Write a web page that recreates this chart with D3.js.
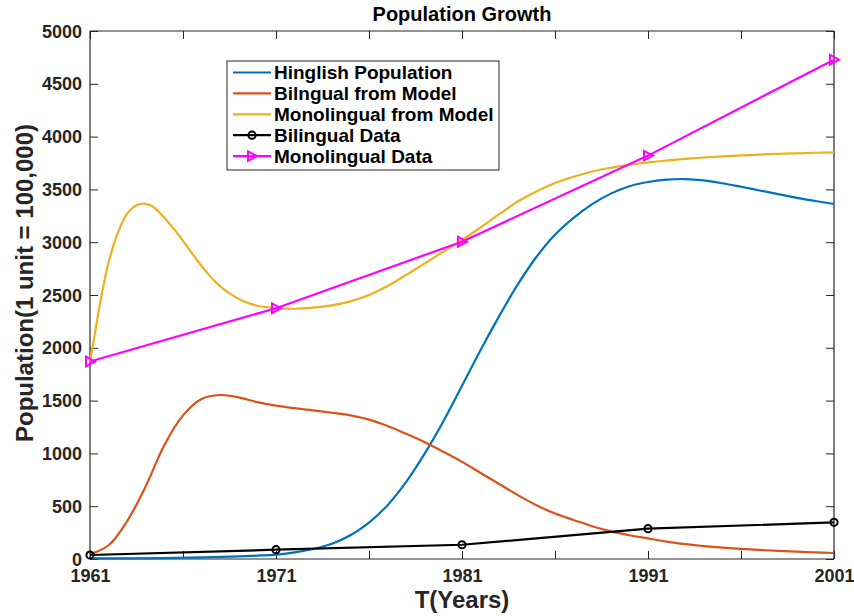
<!DOCTYPE html>
<html>
<head>
<meta charset="utf-8">
<script src="https://cdn.jsdelivr.net/npm/d3@7/dist/d3.min.js"></script>
<style>
  html, body { margin: 0; padding: 0; background: #fff; }
  svg { display: block; font-family: "Liberation Sans", Arial, Helvetica, sans-serif; }
</style>
</head>
<body>
<svg id="chart" width="854" height="616"></svg>
<script>
// Census years and observed values (1 unit = 100,000 people)
const censusYears = [1961, 1971, 1981, 1991, 2001];
const bilingualData = [38, 88, 135, 287, 347];
const monolingualData = [1870, 2375, 3005, 3820, 4728];

// Model output, sampled as [year, value]
const hinglishModel = [
  [1961, 5], [1963, 6], [1965, 9], [1967, 15], [1969, 25], [1970, 32], [1971, 42],
  [1972, 62], [1973, 95], [1974, 145], [1975, 225], [1976, 345], [1977, 510],
  [1978, 730], [1979, 1000], [1980, 1305], [1981, 1640], [1982, 1980], [1983, 2300],
  [1984, 2600], [1985, 2860], [1986, 3070], [1987, 3230], [1988, 3360], [1989, 3460],
  [1990, 3530], [1991, 3570], [1992, 3592], [1993, 3598], [1994, 3585], [1995, 3558],
  [1996, 3525], [1997, 3490], [1998, 3455], [1999, 3420], [2000, 3390], [2001, 3362]
];
const bilingualModel = [
  [1961, 45], [1962, 130], [1963, 360], [1964, 690], [1965, 1080], [1966, 1360],
  [1967, 1515], [1968, 1553], [1969, 1530], [1970, 1485], [1971, 1452], [1972, 1428],
  [1973, 1408], [1974, 1385], [1975, 1360], [1976, 1320], [1977, 1260], [1978, 1185],
  [1979, 1105], [1980, 1015], [1981, 920], [1982, 815], [1983, 710], [1984, 605],
  [1985, 510], [1986, 430], [1987, 370], [1988, 310], [1989, 262], [1990, 225],
  [1991, 195], [1992, 165], [1993, 140], [1994, 122], [1995, 107], [1996, 95],
  [1997, 86], [1998, 77], [1999, 69], [2000, 62], [2001, 57]
];
const monolingualModel = [
  [1961, 1865], [1961.25, 2120], [1961.5, 2380], [1961.75, 2610], [1962, 2810],
  [1962.5, 3090], [1963, 3270], [1963.5, 3350], [1963.9, 3365], [1964.3, 3345],
  [1964.8, 3270], [1965.3, 3170], [1965.8, 3060], [1966.3, 2940], [1966.8, 2820],
  [1967.3, 2710], [1967.8, 2615], [1968.5, 2515], [1969.25, 2440], [1970, 2398],
  [1971, 2376], [1972, 2370], [1973, 2380], [1974, 2402], [1975, 2440], [1976, 2500],
  [1977, 2585], [1978, 2690], [1979, 2800], [1980, 2910], [1981, 3020], [1982, 3140],
  [1983, 3265], [1984, 3385], [1985, 3480], [1986, 3560], [1987, 3620], [1988, 3670],
  [1989, 3705], [1990, 3732], [1991, 3755], [1992, 3773], [1993, 3789], [1994, 3802],
  [1995, 3813], [1996, 3822], [1997, 3830], [1998, 3836], [1999, 3842], [2000, 3847],
  [2001, 3850]
];

const xTicks = [1961, 1966, 1971, 1976, 1981, 1986, 1991, 1996, 2001];
const xTickLabels = ["1961", "", "1971", "", "1981", "", "1991", "", "2001"];
const yTicks = [0, 500, 1000, 1500, 2000, 2500, 3000, 3500, 4000, 4500, 5000];

const legendLabels = ["Hinglish Population", "Bilngual from Model", "Monolingual from Model", "Bilingual Data", "Monolingual Data"];
const colors = ["#0072BD", "#D95319", "#EDB120", "#000000", "#FF00FF"];

const svg = d3.select("#chart");
const m = { left: 90, right: 834, top: 31, bottom: 559 };
const axisColor = "#262626";

const x = d3.scaleLinear().domain([1961, 2001]).range([m.left, m.right]);
const y = d3.scaleLinear().domain([0, 5000]).range([m.bottom, m.top]);
const tickLen = 8;

// Axes: ticks point inward, box drawn on all four sides
const gx = svg.append("g").attr("transform", `translate(0,${m.bottom})`)
  .call(d3.axisBottom(x).tickValues(xTicks).tickSize(-tickLen).tickPadding(12)
    .tickFormat((d, i) => xTickLabels[i]));
const gxTop = svg.append("g").attr("transform", `translate(0,${m.top})`)
  .call(d3.axisTop(x).tickValues(xTicks).tickSize(-tickLen).tickFormat(""));
const gy = svg.append("g").attr("transform", `translate(${m.left},0)`)
  .call(d3.axisLeft(y).tickValues(yTicks).tickSize(-tickLen).tickPadding(8)
    .tickFormat(d3.format("d")));
const gyRight = svg.append("g").attr("transform", `translate(${m.right},0)`)
  .call(d3.axisRight(y).tickValues(yTicks).tickSize(-tickLen).tickFormat(""));

[gx, gxTop, gy, gyRight].forEach(g => {
  g.selectAll(".domain").attr("stroke", axisColor).attr("stroke-width", 1.2);
  g.selectAll(".tick line").attr("stroke", axisColor).attr("stroke-width", 1);
  g.selectAll(".tick text").attr("fill", axisColor)
    .style("font-size", "18px").style("font-weight", "bold");
});
gx.selectAll(".domain").attr("d", `M${m.left},0H${m.right}`);
gxTop.selectAll(".domain").attr("d", `M${m.left},0H${m.right}`);
gy.selectAll(".domain").attr("d", `M0,${m.bottom}V${m.top}`);
gyRight.selectAll(".domain").attr("d", `M0,${m.bottom}V${m.top}`);
gx.selectAll(".tick text").attr("dy", "0.6em");
gy.selectAll(".tick text").attr("dy", "0.34em");

// Model curves
const line = d3.line().x(d => x(d[0])).y(d => y(d[1])).curve(d3.curveCatmullRom.alpha(0.5));
const models = [hinglishModel, bilingualModel, monolingualModel];
models.forEach((series, i) => {
  svg.append("path").datum(series)
    .attr("fill", "none").attr("stroke", colors[i]).attr("stroke-width", 2.2)
    .attr("stroke-linejoin", "round").attr("d", line);
});

// Observed series
const dataLine = d3.line().x((d, i) => x(censusYears[i])).y(d => y(d));
const triPath = "M-4,-4.8L5,0L-4,4.8Z";

svg.append("path").datum(bilingualData)
  .attr("fill", "none").attr("stroke", colors[3]).attr("stroke-width", 2.2).attr("d", dataLine);
svg.selectAll(".bi-pt").data(bilingualData).join("circle")
  .attr("cx", (d, i) => x(censusYears[i])).attr("cy", d => y(d)).attr("r", 3.6)
  .attr("fill", "none").attr("stroke", colors[3]).attr("stroke-width", 2);

svg.append("path").datum(monolingualData)
  .attr("fill", "none").attr("stroke", colors[4]).attr("stroke-width", 2.2).attr("d", dataLine);
svg.selectAll(".mono-pt").data(monolingualData).join("path")
  .attr("transform", (d, i) => `translate(${x(censusYears[i])},${y(d)})`)
  .attr("d", triPath).attr("fill", "none").attr("stroke", colors[4]).attr("stroke-width", 2);

// Legend
const lg = svg.append("g");
lg.append("rect").attr("x", 227).attr("y", 61).attr("width", 272).attr("height", 109)
  .attr("fill", "#fff").attr("stroke", axisColor).attr("stroke-width", 1);
legendLabels.forEach((label, i) => {
  const cy = 72.5 + i * 20.9;
  lg.append("line").attr("x1", 233).attr("x2", 271).attr("y1", cy).attr("y2", cy)
    .attr("stroke", colors[i]).attr("stroke-width", 2.2);
  if (i === 3) {
    lg.append("circle").attr("cx", 252).attr("cy", cy).attr("r", 3.6)
      .attr("fill", "none").attr("stroke", colors[i]).attr("stroke-width", 2);
  }
  if (i === 4) {
    lg.append("path").attr("transform", `translate(252,${cy})`).attr("d", triPath)
      .attr("fill", "none").attr("stroke", colors[i]).attr("stroke-width", 2);
  }
  lg.append("text").attr("x", 274).attr("y", cy).attr("dy", "0.36em")
    .style("font-size", "19px").style("font-weight", "bold").attr("fill", "#000")
    .text(label);
});

// Title and axis labels
svg.append("text").attr("x", (m.left + m.right) / 2).attr("y", 21)
  .attr("text-anchor", "middle").style("font-size", "20px").style("font-weight", "bold")
  .attr("fill", "#000").text("Population Growth");
svg.append("text").attr("x", (m.left + m.right) / 2).attr("y", 608)
  .attr("text-anchor", "middle").style("font-size", "24px").style("font-weight", "bold")
  .attr("fill", axisColor).text("T(Years)");
svg.append("text")
  .attr("transform", `translate(33,283) rotate(-90)`)
  .attr("text-anchor", "middle").style("font-size", "24px").style("font-weight", "bold")
  .attr("fill", axisColor).text("Population(1 unit = 100,000)");
</script>
</body>
</html>
